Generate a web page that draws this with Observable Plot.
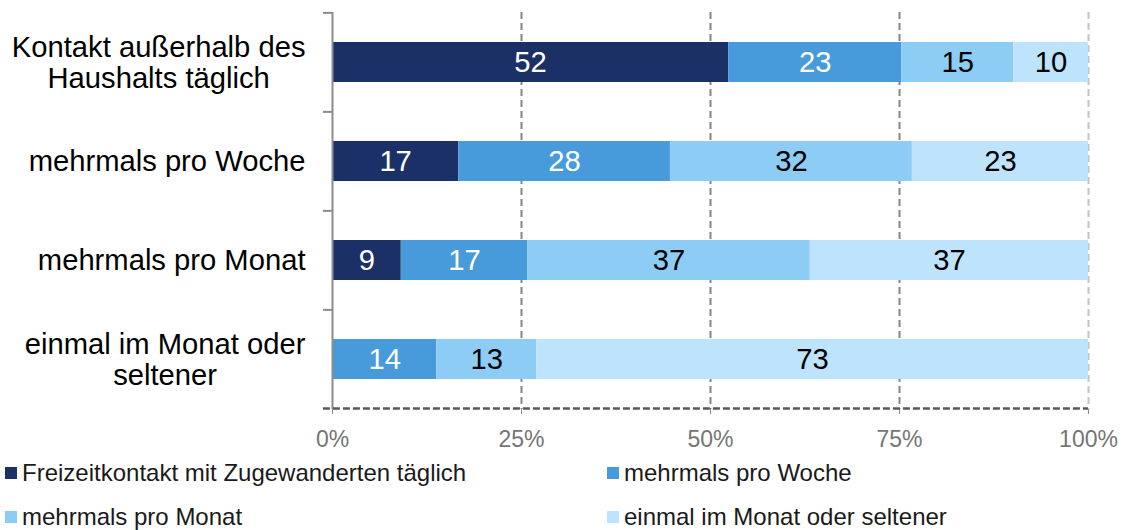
<!DOCTYPE html>
<html>
<head>
<meta charset="utf-8">
<script src="https://cdn.jsdelivr.net/npm/d3@7"></script>
<script src="https://cdn.jsdelivr.net/npm/@observablehq/plot@0.6"></script>
<style>
  html, body { margin: 0; padding: 0; background: #fff; }
  #wrap { position: relative; width: 1126px; height: 530px; font-family: "Liberation Sans", Arial, sans-serif; }
  #legend { position: absolute; left: 0; top: 452px; width: 1126px; }
  .item { position: absolute; display: flex; align-items: center; font-size: 24px; color: #1a1a1a; white-space: nowrap; }
  .sw { width: 12px; height: 12px; margin-right: 5px; flex: none; }
</style>
</head>
<body>
<div id="wrap"><div id="chart"></div><div id="legend"></div></div>
<script>
const categories = ["Kontakt außerhalb des Haushalts täglich", "mehrmals pro Woche", "mehrmals pro Monat", "einmal im Monat oder seltener"];
const categoryLabels = ["Kontakt außerhalb des\nHaushalts täglich", "mehrmals pro Woche", "mehrmals pro Monat", "einmal im Monat oder\nseltener"];
const series = ["Freizeitkontakt mit Zugewanderten täglich", "mehrmals pro Woche", "mehrmals pro Monat", "einmal im Monat oder seltener"];
const valsDaily   = [52.4, 16.7,  9.1,  0.0];
const valsWeekly  = [22.9, 28.0, 16.7, 13.8];
const valsMonthly = [14.8, 32.0, 37.4, 13.2];
const valsRarely  = [ 9.9, 23.3, 36.8, 73.0];
const seriesColors = ["#1c3068", "#479bdb", "#8dcdf5", "#bee3fc"];
const labelColors = ["#ffffff", "#ffffff", "#000000", "#000000"];
const xTicks = [0, 25, 50, 75, 100];

const allVals = [valsDaily, valsWeekly, valsMonthly, valsRarely];
const data = [];
categories.forEach((c, i) => {
  series.forEach((s, j) => {
    data.push({cat: c, series: s, si: j, value: allVals[j][i]});
  });
});

const W = 1126, H = 452, MT = 12, MB = 43, ML = 332, MR = 38;
const step = (H - MT - MB) / categories.length;
const gridColor = "#8c8c8c";
const FS = 29.2;

const chart = Plot.plot({
  width: W, height: H,
  marginTop: MT, marginBottom: MB, marginLeft: ML, marginRight: MR,
  style: {fontFamily: "'Liberation Sans', Arial, sans-serif", background: "white", overflow: "visible"},
  x: {domain: [0, 100], label: null},
  y: {domain: categories, paddingInner: 0.6, paddingOuter: 0.3, label: null},
  color: {domain: series, range: seriesColors},
  marks: [
    Plot.ruleX([25, 50, 75], {stroke: "#858585", strokeWidth: 2, strokeDasharray: "7,4"}),
    Plot.ruleX([100], {stroke: "#c4c4c4", strokeWidth: 2, strokeDasharray: "7,4"}),
    Plot.barX(data, Plot.stackX({x: "value", y: "cat", z: "series", fill: "series"})),
    Plot.text(data.filter(d => d.value > 0), Plot.stackX({
      x: "value", y: "cat", z: "series",
      text: d => d3.format(".0f")(d.value),
      fill: d => labelColors[d.si],
      fontSize: FS
    })),
    Plot.ruleX([0], {stroke: gridColor, strokeWidth: 2}),
    Plot.ruleY(categories, {y: d => d, dy: -step / 2, x1: -1.2, x2: 0, stroke: gridColor, strokeWidth: 2}),
    Plot.axisX({
      ticks: xTicks, tickFormat: d => d + "%", tickSize: 5, tickPadding: 16,
      fontSize: 23, color: "#757575", stroke: gridColor, label: null
    }),
    Plot.axisY({
      tickSize: 0, tickPadding: 27, fontSize: FS, lineHeight: 1.06, label: null,
      tickFormat: d => categoryLabels[categories.indexOf(d)], color: "#000"
    })
  ]
});

document.getElementById("chart").appendChild(chart);

// bottom dashed axis line, positioned from the chart's own scales
const xs = chart.scale("x"), ys = chart.scale("y");
const lastCat = categories[categories.length - 1];
const yBottom = ys.apply(lastCat) + ys.bandwidth + (ys.step - ys.bandwidth) / 2;
d3.select(chart).append("line")
  .attr("x1", xs.apply(-1.2)).attr("x2", xs.apply(100))
  .attr("y1", yBottom).attr("y2", yBottom)
  .attr("stroke", "#5a5a5a").attr("stroke-width", 2.5).attr("stroke-dasharray", "7,3");

// center multi-line category labels within their right-aligned block
d3.select(chart).selectAll("g[aria-label='y-axis tick label'] text").each(function() {
  const t = d3.select(this);
  const spans = t.selectAll("tspan");
  if (spans.size() > 1) {
    const w = this.getBBox().width;
    t.attr("text-anchor", "middle");
    spans.attr("x", -w / 2);
  }
});

// legend
const legend = d3.select("#legend");
const pos = [[5, 21], [607, 21], [5, 65], [607, 65]];
series.forEach((s, i) => {
  const it = legend.append("div").attr("class", "item")
    .style("left", pos[i][0] + "px").style("top", (pos[i][1] - 14) + "px").style("height", "28px");
  it.append("div").attr("class", "sw").style("background", seriesColors[i]);
  it.append("span").text(s);
});
</script>
</body>
</html>
